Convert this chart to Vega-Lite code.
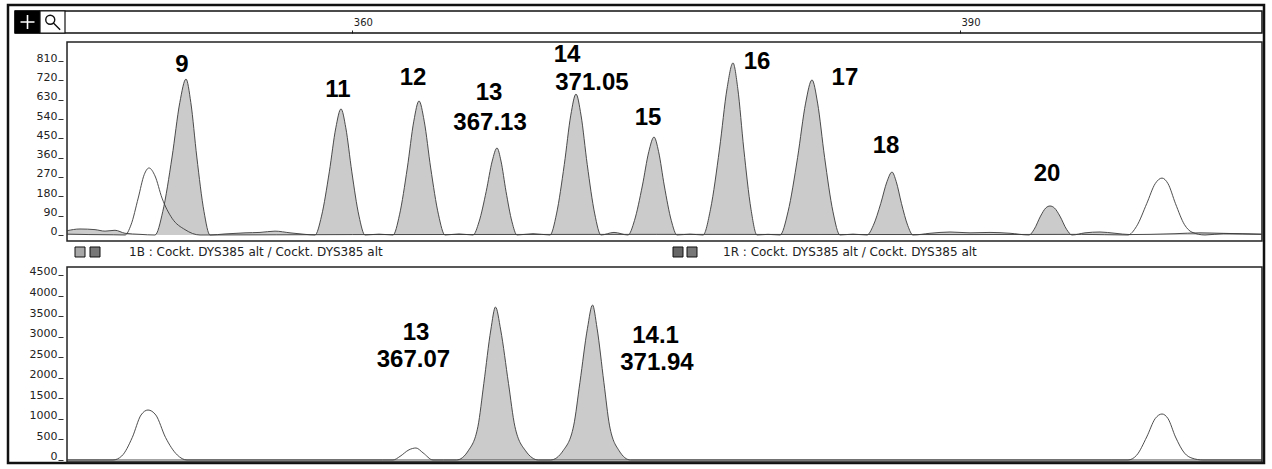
{
  "$schema": "https://vega.github.io/schema/vega-lite/v6.json",
  "width": 1272,
  "height": 469,
  "autosize": {"type": "fit", "contains": "padding"},
  "padding": {"left": 8, "top": 5, "right": 8, "bottom": 6},
  "background": "white",
  "config": {"view": {"stroke": "#111", "strokeWidth": 2.5}, "font": "DejaVu Sans"},
  "datasets": {
    "traces": [
      {"p":"top","d":"B","x":345.916,"y":20},{"p":"top","d":"B","x":346.558,"y":28},{"p":"top","d":"B","x":347.298,"y":25},{"p":"top","d":"B","x":347.792,"y":18},{"p":"top","d":"B","x":348.286,"y":22},{"p":"top","d":"B","x":348.779,"y":8},{"p":"top","d":"B","x":349.52,"y":3},
      {"p":"top","d":"B","x":350.26,"y":0},{"p":"top","d":"B","x":350.643,"y":109},{"p":"top","d":"B","x":351.102,"y":363},{"p":"top","d":"B","x":351.485,"y":617},{"p":"top","d":"B","x":351.791,"y":726},{"p":"top","d":"B","x":352.028,"y":617},{"p":"top","d":"B","x":352.324,"y":363},{"p":"top","d":"B","x":352.679,"y":109},{"p":"top","d":"B","x":352.975,"y":0},
      {"p":"top","d":"B","x":353.716,"y":5},{"p":"top","d":"B","x":354.703,"y":10},{"p":"top","d":"B","x":355.444,"y":12},{"p":"top","d":"B","x":356.184,"y":18},{"p":"top","d":"B","x":356.925,"y":10},{"p":"top","d":"B","x":357.665,"y":3},
      {"p":"top","d":"B","x":358.159,"y":0},{"p":"top","d":"B","x":358.48,"y":88},{"p":"top","d":"B","x":358.865,"y":294},{"p":"top","d":"B","x":359.186,"y":499},{"p":"top","d":"B","x":359.442,"y":587},{"p":"top","d":"B","x":359.679,"y":499},{"p":"top","d":"B","x":359.976,"y":294},{"p":"top","d":"B","x":360.331,"y":88},{"p":"top","d":"B","x":360.627,"y":0},
      {"p":"top","d":"B","x":361.318,"y":4},
      {"p":"top","d":"B","x":362.009,"y":0},{"p":"top","d":"B","x":362.33,"y":94},{"p":"top","d":"B","x":362.715,"y":312},{"p":"top","d":"B","x":363.036,"y":530},{"p":"top","d":"B","x":363.293,"y":624},{"p":"top","d":"B","x":363.55,"y":530},{"p":"top","d":"B","x":363.87,"y":312},{"p":"top","d":"B","x":364.256,"y":94},{"p":"top","d":"B","x":364.576,"y":0},
      {"p":"top","d":"B","x":365.268,"y":5},
      {"p":"top","d":"B","x":365.959,"y":0},{"p":"top","d":"B","x":366.255,"y":61},{"p":"top","d":"B","x":366.61,"y":203},{"p":"top","d":"B","x":366.906,"y":344},{"p":"top","d":"B","x":367.143,"y":405},{"p":"top","d":"B","x":367.341,"y":344},{"p":"top","d":"B","x":367.588,"y":203},{"p":"top","d":"B","x":367.884,"y":61},{"p":"top","d":"B","x":368.131,"y":0},
      {"p":"top","d":"B","x":368.921,"y":6},
      {"p":"top","d":"B","x":369.759,"y":0},{"p":"top","d":"B","x":370.08,"y":98},{"p":"top","d":"B","x":370.465,"y":328},{"p":"top","d":"B","x":370.786,"y":558},{"p":"top","d":"B","x":371.043,"y":656},{"p":"top","d":"B","x":371.29,"y":558},{"p":"top","d":"B","x":371.598,"y":328},{"p":"top","d":"B","x":371.969,"y":98},{"p":"top","d":"B","x":372.277,"y":0},
      {"p":"top","d":"B","x":372.919,"y":12},
      {"p":"top","d":"B","x":373.61,"y":0},{"p":"top","d":"B","x":373.931,"y":68},{"p":"top","d":"B","x":374.316,"y":228},{"p":"top","d":"B","x":374.637,"y":388},{"p":"top","d":"B","x":374.894,"y":456},{"p":"top","d":"B","x":375.121,"y":388},{"p":"top","d":"B","x":375.405,"y":228},{"p":"top","d":"B","x":375.746,"y":68},{"p":"top","d":"B","x":376.029,"y":0},
      {"p":"top","d":"B","x":376.671,"y":4},
      {"p":"top","d":"B","x":377.313,"y":0},{"p":"top","d":"B","x":377.683,"y":120},{"p":"top","d":"B","x":378.127,"y":400},{"p":"top","d":"B","x":378.498,"y":681},{"p":"top","d":"B","x":378.794,"y":801},{"p":"top","d":"B","x":379.031,"y":681},{"p":"top","d":"B","x":379.327,"y":400},{"p":"top","d":"B","x":379.682,"y":120},{"p":"top","d":"B","x":379.979,"y":0},
      {"p":"top","d":"B","x":380.522,"y":3},
      {"p":"top","d":"B","x":381.114,"y":0},{"p":"top","d":"B","x":381.509,"y":108},{"p":"top","d":"B","x":381.983,"y":361},{"p":"top","d":"B","x":382.378,"y":614},{"p":"top","d":"B","x":382.694,"y":722},{"p":"top","d":"B","x":382.97,"y":614},{"p":"top","d":"B","x":383.316,"y":361},{"p":"top","d":"B","x":383.73,"y":108},{"p":"top","d":"B","x":384.076,"y":0},
      {"p":"top","d":"B","x":384.718,"y":4},
      {"p":"top","d":"B","x":385.409,"y":0},{"p":"top","d":"B","x":385.717,"y":44},{"p":"top","d":"B","x":386.088,"y":147},{"p":"top","d":"B","x":386.396,"y":249},{"p":"top","d":"B","x":386.643,"y":293},{"p":"top","d":"B","x":386.85,"y":249},{"p":"top","d":"B","x":387.11,"y":147},{"p":"top","d":"B","x":387.421,"y":44},{"p":"top","d":"B","x":387.68,"y":0},
      {"p":"top","d":"B","x":388.519,"y":8},{"p":"top","d":"B","x":389.506,"y":14},{"p":"top","d":"B","x":390.494,"y":10},{"p":"top","d":"B","x":391.481,"y":12},{"p":"top","d":"B","x":392.468,"y":8},
      {"p":"top","d":"B","x":393.406,"y":0},{"p":"top","d":"B","x":393.665,"y":27},{"p":"top","d":"B","x":393.976,"y":88},{"p":"top","d":"B","x":394.236,"y":126},{"p":"top","d":"B","x":394.443,"y":135},{"p":"top","d":"B","x":394.66,"y":126},{"p":"top","d":"B","x":394.932,"y":88},{"p":"top","d":"B","x":395.257,"y":27},{"p":"top","d":"B","x":395.529,"y":0},
      {"p":"top","d":"B","x":396.171,"y":10},{"p":"top","d":"B","x":396.911,"y":14},{"p":"top","d":"B","x":397.652,"y":8},{"p":"top","d":"B","x":398.392,"y":2},{"p":"top","d":"B","x":399.379,"y":3},{"p":"top","d":"B","x":400.614,"y":6},{"p":"top","d":"B","x":401.848,"y":10},{"p":"top","d":"B","x":402.835,"y":8},{"p":"top","d":"B","x":403.822,"y":6},{"p":"top","d":"B","x":404.908,"y":4},

      {"p":"top","d":"R","x":345.916,"y":4},{"p":"top","d":"R","x":347.0,"y":2},{"p":"top","d":"R","x":348.2,"y":1},
      {"p":"top","d":"R","x":348.779,"y":0},{"p":"top","d":"R","x":349.075,"y":47},{"p":"top","d":"R","x":349.431,"y":172},{"p":"top","d":"R","x":349.727,"y":281},{"p":"top","d":"R","x":349.964,"y":312},{"p":"top","d":"R","x":350.26,"y":275},{"p":"top","d":"R","x":350.606,"y":172},{"p":"top","d":"R","x":351.1,"y":78},{"p":"top","d":"R","x":351.741,"y":25},{"p":"top","d":"R","x":352.482,"y":0},
      {"p":"top","d":"R","x":360.0,"y":2},{"p":"top","d":"R","x":375.0,"y":3},{"p":"top","d":"R","x":390.0,"y":2},{"p":"top","d":"R","x":396.0,"y":3},
      {"p":"top","d":"R","x":398.293,"y":0},{"p":"top","d":"R","x":398.713,"y":40},{"p":"top","d":"R","x":399.217,"y":146},{"p":"top","d":"R","x":399.636,"y":239},{"p":"top","d":"R","x":399.972,"y":265},{"p":"top","d":"R","x":400.268,"y":239},{"p":"top","d":"R","x":400.638,"y":146},{"p":"top","d":"R","x":401.083,"y":48},{"p":"top","d":"R","x":401.453,"y":13},{"p":"top","d":"R","x":402.095,"y":0},
      {"p":"top","d":"R","x":403.0,"y":6},{"p":"top","d":"R","x":404.908,"y":3},

      {"p":"bottom","d":"B","x":345.916,"y":0},{"p":"bottom","d":"B","x":364.5,"y":0},
      {"p":"bottom","d":"B","x":365.144,"y":0},{"p":"bottom","d":"B","x":365.722,"y":223},{"p":"bottom","d":"B","x":366.203,"y":819},{"p":"bottom","d":"B","x":366.492,"y":1861},{"p":"bottom","d":"B","x":366.837,"y":3163},{"p":"bottom","d":"B","x":367.069,"y":3721},{"p":"bottom","d":"B","x":367.326,"y":3163},{"p":"bottom","d":"B","x":367.711,"y":1861},{"p":"bottom","d":"B","x":368.025,"y":819},{"p":"bottom","d":"B","x":368.555,"y":223},{"p":"bottom","d":"B","x":369.192,"y":0},
      {"p":"bottom","d":"B","x":369.785,"y":0},{"p":"bottom","d":"B","x":370.407,"y":226},{"p":"bottom","d":"B","x":370.925,"y":829},{"p":"bottom","d":"B","x":371.236,"y":1885},{"p":"bottom","d":"B","x":371.609,"y":3205},{"p":"bottom","d":"B","x":371.858,"y":3770},{"p":"bottom","d":"B","x":372.083,"y":3205},{"p":"bottom","d":"B","x":372.421,"y":1885},{"p":"bottom","d":"B","x":372.702,"y":829},{"p":"bottom","d":"B","x":373.171,"y":226},{"p":"bottom","d":"B","x":373.734,"y":0},
      {"p":"bottom","d":"B","x":404.908,"y":0},

      {"p":"bottom","d":"R","x":345.916,"y":0},{"p":"bottom","d":"R","x":347.5,"y":0},
      {"p":"bottom","d":"R","x":348.187,"y":0},{"p":"bottom","d":"R","x":348.619,"y":97},{"p":"bottom","d":"R","x":349.137,"y":547},{"p":"bottom","d":"R","x":349.569,"y":1094},{"p":"bottom","d":"R","x":349.915,"y":1216},{"p":"bottom","d":"R","x":350.3,"y":1094},{"p":"bottom","d":"R","x":350.781,"y":547},{"p":"bottom","d":"R","x":351.359,"y":122},{"p":"bottom","d":"R","x":351.84,"y":0},
      {"p":"bottom","d":"R","x":361.5,"y":0},
      {"p":"bottom","d":"R","x":362.009,"y":0},{"p":"bottom","d":"R","x":362.355,"y":88},{"p":"bottom","d":"R","x":362.799,"y":248},{"p":"bottom","d":"R","x":363.145,"y":292},{"p":"bottom","d":"R","x":363.49,"y":175},{"p":"bottom","d":"R","x":363.984,"y":0},
      {"p":"bottom","d":"R","x":397.5,"y":0},
      {"p":"bottom","d":"R","x":398.293,"y":0},{"p":"bottom","d":"R","x":398.713,"y":112},{"p":"bottom","d":"R","x":399.217,"y":560},{"p":"bottom","d":"R","x":399.636,"y":1007},{"p":"bottom","d":"R","x":399.972,"y":1119},{"p":"bottom","d":"R","x":400.268,"y":1007},{"p":"bottom","d":"R","x":400.638,"y":560},{"p":"bottom","d":"R","x":401.083,"y":168},{"p":"bottom","d":"R","x":401.453,"y":45},{"p":"bottom","d":"R","x":401.996,"y":0},
      {"p":"bottom","d":"R","x":404.908,"y":0}
    ],
    "labels": [
      {"p":"top","t":"9","x":351.59,"y":791},
      {"p":"top","t":"11","x":359.29,"y":675},
      {"p":"top","t":"12","x":363.0,"y":731},
      {"p":"top","t":"13","x":366.75,"y":661},
      {"p":"top","t":"367.13","x":366.8,"y":521},
      {"p":"top","t":"14","x":370.6,"y":838},
      {"p":"top","t":"371.05","x":371.83,"y":708},
      {"p":"top","t":"15","x":374.6,"y":545},
      {"p":"top","t":"16","x":379.98,"y":805},
      {"p":"top","t":"17","x":384.32,"y":731},
      {"p":"top","t":"18","x":386.35,"y":414},
      {"p":"top","t":"20","x":394.3,"y":284},
      {"p":"bottom","t":"13","x":363.15,"y":3089},
      {"p":"bottom","t":"367.07","x":363.02,"y":2432},
      {"p":"bottom","t":"14.1","x":374.97,"y":3016},
      {"p":"bottom","t":"371.94","x":375.04,"y":2359}
    ]
  },
  "layer": [
    {
      "data": {"name": "traces"},
      "transform": [{"filter": "datum.p === 'top' && datum.d === 'B'"}],
      "mark": {"type": "area", "interpolate": "monotone", "fill": "#cbcbcb", "fillOpacity": 1},
      "encoding": {
        "x": {"field": "x", "type": "quantitative", "scale": {"domain": [343.003, 405.007], "nice": false, "zero": false},
              "axis": {"orient": "top", "offset": -28, "values": [360, 390], "domain": false, "grid": false, "tickSize": 3, "tickColor": "#222", "labelAlign": "left", "labelOffset": 1, "labelPadding": 3, "labelFontSize": 10, "labelColor": "#222", "labelFlush": false, "format": "d", "title": null}},
        "y": {"field": "y", "type": "quantitative", "scale": {"domain": [-1061.4, 1070.7], "nice": false, "zero": false},
              "axis": {"orient": "left", "offset": -55, "values": [0, 90, 180, 270, 360, 450, 540, 630, 720, 810], "domain": false, "grid": false, "tickSize": 5, "tickColor": "#333", "labelPadding": 1, "labelFontSize": 11, "labelColor": "#222", "labelBaseline": "alphabetic", "labelOverlap": false, "labelFlush": false, "format": "d", "title": null}},
        "y2": {"datum": 0}
      }
    },
    {
      "data": {"name": "traces"},
      "transform": [{"filter": "datum.p === 'bottom' && datum.d === 'B'"}],
      "mark": {"type": "area", "interpolate": "monotone", "fill": "#cbcbcb", "fillOpacity": 1},
      "encoding": {
        "x": {"field": "x", "type": "quantitative", "scale": {"domain": [343.003, 405.007], "nice": false, "zero": false},
              "axis": {"orient": "top", "offset": -28, "values": [360, 390], "domain": false, "grid": false, "tickSize": 3, "tickColor": "#222", "labelAlign": "left", "labelOffset": 1, "labelPadding": 3, "labelFontSize": 10, "labelColor": "#222", "labelFlush": false, "format": "d", "title": null}},
        "y": {"field": "y", "type": "quantitative", "scale": {"domain": [-73.0, 11067.6], "nice": false, "zero": false},
              "axis": {"orient": "left", "offset": -55, "values": [0, 500, 1000, 1500, 2000, 2500, 3000, 3500, 4000, 4500], "domain": false, "grid": false, "tickSize": 5, "tickColor": "#333", "labelPadding": 1, "labelFontSize": 11, "labelColor": "#222", "labelBaseline": "alphabetic", "labelOverlap": false, "labelFlush": false, "format": "d", "title": null}},
        "y2": {"datum": 0}
      }
    },
    {
      "data": {"values": [{}]},
      "mark": {"type": "rect", "fill": "transparent", "stroke": "#111", "strokeWidth": 1.5},
      "encoding": {
        "x": {"datum": 343.349, "type": "quantitative", "scale": {"domain": [343.003, 405.007], "nice": false, "zero": false},
              "axis": {"orient": "top", "offset": -28, "values": [360, 390], "domain": false, "grid": false, "tickSize": 3, "tickColor": "#222", "labelAlign": "left", "labelOffset": 1, "labelPadding": 3, "labelFontSize": 10, "labelColor": "#222", "labelFlush": false, "format": "d", "title": null}},
        "x2": {"datum": 404.908},
        "y": {"datum": 1042.8, "type": "quantitative", "scale": {"domain": [-1061.4, 1070.7], "nice": false, "zero": false}, "axis": null},
        "y2": {"datum": 940.4}
      }
    },
    {
      "data": {"values": [{}]},
      "mark": {"type": "rect", "fill": "#000", "stroke": "#000", "strokeWidth": 1},
      "encoding": {
        "x": {"datum": 343.349, "type": "quantitative", "scale": {"domain": [343.003, 405.007], "nice": false, "zero": false},
              "axis": {"orient": "top", "offset": -28, "values": [360, 390], "domain": false, "grid": false, "tickSize": 3, "tickColor": "#222", "labelAlign": "left", "labelOffset": 1, "labelPadding": 3, "labelFontSize": 10, "labelColor": "#222", "labelFlush": false, "format": "d", "title": null}},
        "x2": {"datum": 344.583},
        "y": {"datum": 1042.8, "type": "quantitative", "scale": {"domain": [-1061.4, 1070.7], "nice": false, "zero": false}, "axis": null},
        "y2": {"datum": 940.4}
      }
    },
    {
      "data": {"values": [{}]},
      "mark": {"type": "rect", "fill": "white", "stroke": "#111", "strokeWidth": 1.2},
      "encoding": {
        "x": {"datum": 344.583, "type": "quantitative", "scale": {"domain": [343.003, 405.007], "nice": false, "zero": false},
              "axis": {"orient": "top", "offset": -28, "values": [360, 390], "domain": false, "grid": false, "tickSize": 3, "tickColor": "#222", "labelAlign": "left", "labelOffset": 1, "labelPadding": 3, "labelFontSize": 10, "labelColor": "#222", "labelFlush": false, "format": "d", "title": null}},
        "x2": {"datum": 345.817},
        "y": {"datum": 1042.8, "type": "quantitative", "scale": {"domain": [-1061.4, 1070.7], "nice": false, "zero": false}, "axis": null},
        "y2": {"datum": 940.4}
      }
    },
    {
      "data": {"values": [{}]},
      "mark": {"type": "point", "shape": "M-1,0L1,0M0,-1L0,1", "size": 196, "filled": false, "stroke": "white", "strokeWidth": 1.6, "opacity": 1},
      "encoding": {
        "x": {"datum": 343.966, "type": "quantitative", "scale": {"domain": [343.003, 405.007], "nice": false, "zero": false},
              "axis": {"orient": "top", "offset": -28, "values": [360, 390], "domain": false, "grid": false, "tickSize": 3, "tickColor": "#222", "labelAlign": "left", "labelOffset": 1, "labelPadding": 3, "labelFontSize": 10, "labelColor": "#222", "labelFlush": false, "format": "d", "title": null}},
        "y": {"datum": 991.6, "type": "quantitative", "scale": {"domain": [-1061.4, 1070.7], "nice": false, "zero": false}, "axis": null}
      }
    },
    {
      "data": {"values": [{}]},
      "mark": {"type": "point", "shape": "M0.25,-0.25A0.5,0.5 0 1 1 -0.75,-0.25A0.5,0.5 0 1 1 0.25,-0.25M0.1,0.1L0.85,0.85", "size": 324, "filled": false, "stroke": "#111", "strokeWidth": 1.4, "opacity": 1},
      "encoding": {
        "x": {"datum": 345.2, "type": "quantitative", "scale": {"domain": [343.003, 405.007], "nice": false, "zero": false},
              "axis": {"orient": "top", "offset": -28, "values": [360, 390], "domain": false, "grid": false, "tickSize": 3, "tickColor": "#222", "labelAlign": "left", "labelOffset": 1, "labelPadding": 3, "labelFontSize": 10, "labelColor": "#222", "labelFlush": false, "format": "d", "title": null}},
        "y": {"datum": 991.6, "type": "quantitative", "scale": {"domain": [-1061.4, 1070.7], "nice": false, "zero": false}, "axis": null}
      }
    },
    {
      "data": {"values": [{}]},
      "mark": {"type": "rect", "fill": "transparent", "stroke": "#222", "strokeWidth": 1.5},
      "encoding": {
        "x": {"datum": 345.916, "type": "quantitative", "scale": {"domain": [343.003, 405.007], "nice": false, "zero": false},
              "axis": {"orient": "top", "offset": -28, "values": [360, 390], "domain": false, "grid": false, "tickSize": 3, "tickColor": "#222", "labelAlign": "left", "labelOffset": 1, "labelPadding": 3, "labelFontSize": 10, "labelColor": "#222", "labelFlush": false, "format": "d", "title": null}},
        "x2": {"datum": 404.908},
        "y": {"datum": 898.5, "type": "quantitative", "scale": {"domain": [-1061.4, 1070.7], "nice": false, "zero": false}, "axis": null},
        "y2": {"datum": -27.9}
      }
    },
    {
      "data": {"values": [{}]},
      "mark": {"type": "rect", "fill": "transparent", "stroke": "#222", "strokeWidth": 1.5},
      "encoding": {
        "x": {"datum": 345.916, "type": "quantitative", "scale": {"domain": [343.003, 405.007], "nice": false, "zero": false},
              "axis": {"orient": "top", "offset": -28, "values": [360, 390], "domain": false, "grid": false, "tickSize": 3, "tickColor": "#222", "labelAlign": "left", "labelOffset": 1, "labelPadding": 3, "labelFontSize": 10, "labelColor": "#222", "labelFlush": false, "format": "d", "title": null}},
        "x2": {"datum": 404.908},
        "y": {"datum": -149.0, "type": "quantitative", "scale": {"domain": [-1061.4, 1070.7], "nice": false, "zero": false}, "axis": null},
        "y2": {"datum": -1056.8}
      }
    },
    {
      "data": {"values": [{}]},
      "mark": {"type": "point", "shape": "square", "size": 100, "filled": true, "fill": "#a8a8a8", "stroke": "#111", "strokeWidth": 1, "opacity": 1},
      "encoding": {
        "x": {"datum": 346.558, "type": "quantitative", "scale": {"domain": [343.003, 405.007], "nice": false, "zero": false},
              "axis": {"orient": "top", "offset": -28, "values": [360, 390], "domain": false, "grid": false, "tickSize": 3, "tickColor": "#222", "labelAlign": "left", "labelOffset": 1, "labelPadding": 3, "labelFontSize": 10, "labelColor": "#222", "labelFlush": false, "format": "d", "title": null}},
        "y": {"datum": -79.1, "type": "quantitative", "scale": {"domain": [-1061.4, 1070.7], "nice": false, "zero": false}, "axis": null}
      }
    },
    {
      "data": {"values": [{}]},
      "mark": {"type": "point", "shape": "square", "size": 100, "filled": true, "fill": "#777", "stroke": "#111", "strokeWidth": 1, "opacity": 1},
      "encoding": {
        "x": {"datum": 347.298, "type": "quantitative", "scale": {"domain": [343.003, 405.007], "nice": false, "zero": false},
              "axis": {"orient": "top", "offset": -28, "values": [360, 390], "domain": false, "grid": false, "tickSize": 3, "tickColor": "#222", "labelAlign": "left", "labelOffset": 1, "labelPadding": 3, "labelFontSize": 10, "labelColor": "#222", "labelFlush": false, "format": "d", "title": null}},
        "y": {"datum": -79.1, "type": "quantitative", "scale": {"domain": [-1061.4, 1070.7], "nice": false, "zero": false}, "axis": null}
      }
    },
    {
      "data": {"values": [{}]},
      "mark": {"type": "point", "shape": "square", "size": 100, "filled": true, "fill": "#666", "stroke": "#111", "strokeWidth": 1, "opacity": 1},
      "encoding": {
        "x": {"datum": 376.079, "type": "quantitative", "scale": {"domain": [343.003, 405.007], "nice": false, "zero": false},
              "axis": {"orient": "top", "offset": -28, "values": [360, 390], "domain": false, "grid": false, "tickSize": 3, "tickColor": "#222", "labelAlign": "left", "labelOffset": 1, "labelPadding": 3, "labelFontSize": 10, "labelColor": "#222", "labelFlush": false, "format": "d", "title": null}},
        "y": {"datum": -79.1, "type": "quantitative", "scale": {"domain": [-1061.4, 1070.7], "nice": false, "zero": false}, "axis": null}
      }
    },
    {
      "data": {"values": [{}]},
      "mark": {"type": "point", "shape": "square", "size": 100, "filled": true, "fill": "#777", "stroke": "#111", "strokeWidth": 1, "opacity": 1},
      "encoding": {
        "x": {"datum": 376.77, "type": "quantitative", "scale": {"domain": [343.003, 405.007], "nice": false, "zero": false},
              "axis": {"orient": "top", "offset": -28, "values": [360, 390], "domain": false, "grid": false, "tickSize": 3, "tickColor": "#222", "labelAlign": "left", "labelOffset": 1, "labelPadding": 3, "labelFontSize": 10, "labelColor": "#222", "labelFlush": false, "format": "d", "title": null}},
        "y": {"datum": -79.1, "type": "quantitative", "scale": {"domain": [-1061.4, 1070.7], "nice": false, "zero": false}, "axis": null}
      }
    },
    {
      "data": {"values": [{}]},
      "mark": {"type": "text", "align": "left", "baseline": "middle", "font": "DejaVu Sans", "fontSize": 12, "color": "#222"},
      "encoding": {
        "x": {"datum": 348.977, "type": "quantitative", "scale": {"domain": [343.003, 405.007], "nice": false, "zero": false},
              "axis": {"orient": "top", "offset": -28, "values": [360, 390], "domain": false, "grid": false, "tickSize": 3, "tickColor": "#222", "labelAlign": "left", "labelOffset": 1, "labelPadding": 3, "labelFontSize": 10, "labelColor": "#222", "labelFlush": false, "format": "d", "title": null}},
        "y": {"datum": -79.1, "type": "quantitative", "scale": {"domain": [-1061.4, 1070.7], "nice": false, "zero": false}, "axis": null},
        "text": {"value": "1B : Cockt. DYS385 alt / Cockt. DYS385 alt"}
      }
    },
    {
      "data": {"values": [{}]},
      "mark": {"type": "text", "align": "left", "baseline": "middle", "font": "DejaVu Sans", "fontSize": 12, "color": "#222"},
      "encoding": {
        "x": {"datum": 378.3, "type": "quantitative", "scale": {"domain": [343.003, 405.007], "nice": false, "zero": false},
              "axis": {"orient": "top", "offset": -28, "values": [360, 390], "domain": false, "grid": false, "tickSize": 3, "tickColor": "#222", "labelAlign": "left", "labelOffset": 1, "labelPadding": 3, "labelFontSize": 10, "labelColor": "#222", "labelFlush": false, "format": "d", "title": null}},
        "y": {"datum": -79.1, "type": "quantitative", "scale": {"domain": [-1061.4, 1070.7], "nice": false, "zero": false}, "axis": null},
        "text": {"value": "1R : Cockt. DYS385 alt / Cockt. DYS385 alt"}
      }
    },
    {
      "data": {"name": "traces"},
      "transform": [{"filter": "datum.p === 'top' && datum.d === 'B'"}],
      "mark": {"type": "line", "interpolate": "monotone", "stroke": "#3a3a3a", "strokeWidth": 0.9},
      "encoding": {
        "x": {"field": "x", "type": "quantitative", "scale": {"domain": [343.003, 405.007], "nice": false, "zero": false},
              "axis": {"orient": "top", "offset": -28, "values": [360, 390], "domain": false, "grid": false, "tickSize": 3, "tickColor": "#222", "labelAlign": "left", "labelOffset": 1, "labelPadding": 3, "labelFontSize": 10, "labelColor": "#222", "labelFlush": false, "format": "d", "title": null}},
        "y": {"field": "y", "type": "quantitative", "scale": {"domain": [-1061.4, 1070.7], "nice": false, "zero": false}, "axis": null}
      }
    },
    {
      "data": {"name": "traces"},
      "transform": [{"filter": "datum.p === 'top' && datum.d === 'R'"}],
      "mark": {"type": "line", "interpolate": "monotone", "stroke": "#3a3a3a", "strokeWidth": 0.9},
      "encoding": {
        "x": {"field": "x", "type": "quantitative", "scale": {"domain": [343.003, 405.007], "nice": false, "zero": false},
              "axis": {"orient": "top", "offset": -28, "values": [360, 390], "domain": false, "grid": false, "tickSize": 3, "tickColor": "#222", "labelAlign": "left", "labelOffset": 1, "labelPadding": 3, "labelFontSize": 10, "labelColor": "#222", "labelFlush": false, "format": "d", "title": null}},
        "y": {"field": "y", "type": "quantitative", "scale": {"domain": [-1061.4, 1070.7], "nice": false, "zero": false}, "axis": null}
      }
    },
    {
      "data": {"name": "labels"},
      "transform": [{"filter": "datum.p === 'top'"}],
      "mark": {"type": "text", "align": "center", "baseline": "middle", "font": "Liberation Sans", "fontWeight": "bold", "fontSize": 24, "color": "#000"},
      "encoding": {
        "x": {"field": "x", "type": "quantitative", "scale": {"domain": [343.003, 405.007], "nice": false, "zero": false},
              "axis": {"orient": "top", "offset": -28, "values": [360, 390], "domain": false, "grid": false, "tickSize": 3, "tickColor": "#222", "labelAlign": "left", "labelOffset": 1, "labelPadding": 3, "labelFontSize": 10, "labelColor": "#222", "labelFlush": false, "format": "d", "title": null}},
        "y": {"field": "y", "type": "quantitative", "scale": {"domain": [-1061.4, 1070.7], "nice": false, "zero": false}, "axis": null},
        "text": {"field": "t"}
      }
    },
    {
      "data": {"name": "traces"},
      "transform": [{"filter": "datum.p === 'bottom' && datum.d === 'B'"}],
      "mark": {"type": "line", "interpolate": "monotone", "stroke": "#3a3a3a", "strokeWidth": 0.9},
      "encoding": {
        "x": {"field": "x", "type": "quantitative", "scale": {"domain": [343.003, 405.007], "nice": false, "zero": false},
              "axis": {"orient": "top", "offset": -28, "values": [360, 390], "domain": false, "grid": false, "tickSize": 3, "tickColor": "#222", "labelAlign": "left", "labelOffset": 1, "labelPadding": 3, "labelFontSize": 10, "labelColor": "#222", "labelFlush": false, "format": "d", "title": null}},
        "y": {"field": "y", "type": "quantitative", "scale": {"domain": [-73.0, 11067.6], "nice": false, "zero": false}, "axis": null}
      }
    },
    {
      "data": {"name": "traces"},
      "transform": [{"filter": "datum.p === 'bottom' && datum.d === 'R'"}],
      "mark": {"type": "line", "interpolate": "monotone", "stroke": "#3a3a3a", "strokeWidth": 0.9},
      "encoding": {
        "x": {"field": "x", "type": "quantitative", "scale": {"domain": [343.003, 405.007], "nice": false, "zero": false},
              "axis": {"orient": "top", "offset": -28, "values": [360, 390], "domain": false, "grid": false, "tickSize": 3, "tickColor": "#222", "labelAlign": "left", "labelOffset": 1, "labelPadding": 3, "labelFontSize": 10, "labelColor": "#222", "labelFlush": false, "format": "d", "title": null}},
        "y": {"field": "y", "type": "quantitative", "scale": {"domain": [-73.0, 11067.6], "nice": false, "zero": false}, "axis": null}
      }
    },
    {
      "data": {"name": "labels"},
      "transform": [{"filter": "datum.p === 'bottom'"}],
      "mark": {"type": "text", "align": "center", "baseline": "middle", "font": "Liberation Sans", "fontWeight": "bold", "fontSize": 24, "color": "#000"},
      "encoding": {
        "x": {"field": "x", "type": "quantitative", "scale": {"domain": [343.003, 405.007], "nice": false, "zero": false},
              "axis": {"orient": "top", "offset": -28, "values": [360, 390], "domain": false, "grid": false, "tickSize": 3, "tickColor": "#222", "labelAlign": "left", "labelOffset": 1, "labelPadding": 3, "labelFontSize": 10, "labelColor": "#222", "labelFlush": false, "format": "d", "title": null}},
        "y": {"field": "y", "type": "quantitative", "scale": {"domain": [-73.0, 11067.6], "nice": false, "zero": false}, "axis": null},
        "text": {"field": "t"}
      }
    }
  ],
  "resolve": {"scale": {"y": "independent"}, "axis": {"y": "independent"}}
}
